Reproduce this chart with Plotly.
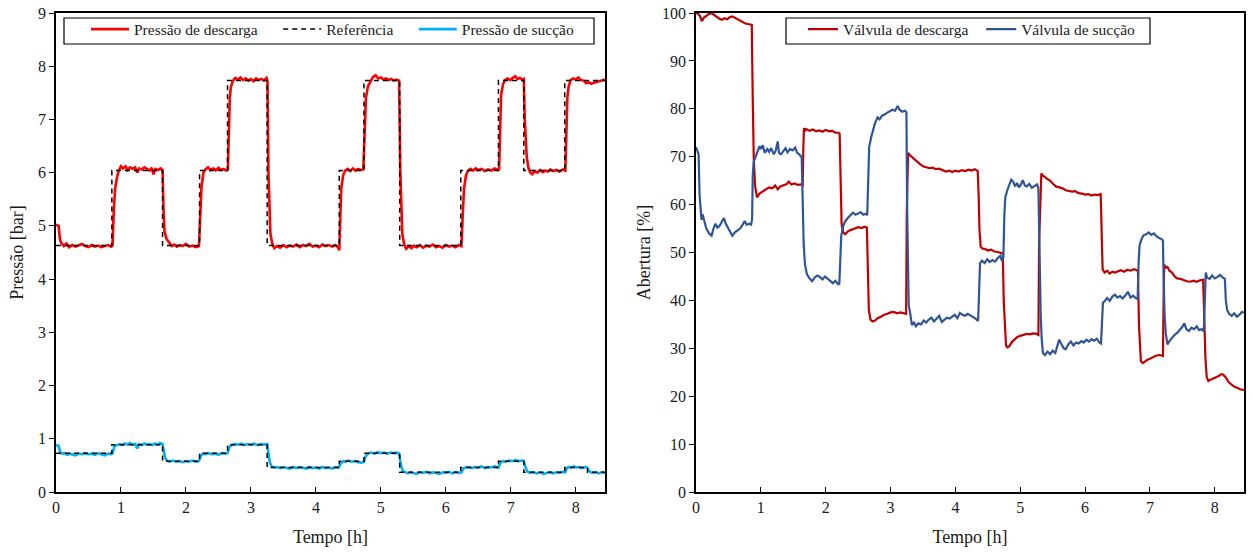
import plotly.graph_objects as go

# ---------------- Left panel: pressures ----------------
t_pd = [0, 0.04, 0.06, 0.08, 0.12, 0.16, 0.2, 0.25, 0.3, 0.35, 0.4, 0.45, 0.5, 0.55, 0.6, 0.65, 0.7, 0.75, 0.8, 0.85, 0.87,
        0.89, 0.91, 0.94, 0.97, 1.0,
        1.03, 1.07, 1.1, 1.14, 1.18, 1.22, 1.25, 1.28, 1.32, 1.36, 1.4, 1.44, 1.47, 1.5, 1.53, 1.57, 1.61, 1.64,
        1.655, 1.67, 1.70, 1.74, 1.78, 1.82, 1.86, 1.9, 1.95, 2.0, 2.05, 2.1, 2.15, 2.2,
        2.225, 2.24, 2.27, 2.3, 2.34, 2.38, 2.42, 2.46, 2.5, 2.54, 2.58, 2.62, 2.645,
        2.66, 2.675, 2.69, 2.72, 2.76, 2.8, 2.84, 2.88, 2.92, 2.96, 3.0, 3.04, 3.08, 3.12, 3.16, 3.2, 3.24, 3.255,
        3.27, 3.285, 3.3, 3.33, 3.36, 3.4, 3.45, 3.5, 3.55, 3.6, 3.65, 3.7, 3.75, 3.8, 3.85, 3.9, 3.95, 4.0, 4.05, 4.1, 4.15, 4.2, 4.25, 4.3, 4.34, 4.36,
        4.375, 4.39, 4.42, 4.45, 4.49, 4.53, 4.57, 4.61, 4.65, 4.69, 4.73,
        4.755, 4.77, 4.8, 4.84, 4.88, 4.92, 4.96, 5.0, 5.04, 5.08, 5.12, 5.16, 5.2, 5.24, 5.28,
        5.3, 5.315, 5.33, 5.36, 5.39, 5.43, 5.47, 5.51, 5.55, 5.6, 5.65, 5.7, 5.75, 5.8, 5.85, 5.9, 5.95, 6.0, 6.05, 6.1, 6.15, 6.2, 6.24,
        6.26, 6.28, 6.31, 6.34, 6.38, 6.42, 6.46, 6.5, 6.55, 6.6, 6.65, 6.7, 6.75, 6.8, 6.82,
        6.835, 6.85, 6.88, 6.91, 6.95, 6.99, 7.03, 7.07, 7.1, 7.14, 7.18, 7.2,
        7.215, 7.23, 7.245, 7.27, 7.3, 7.33, 7.37, 7.41, 7.45, 7.49, 7.53, 7.57, 7.61, 7.65, 7.7, 7.75, 7.8, 7.84,
        7.855, 7.87, 7.89, 7.92, 7.96, 8.0, 8.04, 8.08, 8.12, 8.16, 8.2, 8.24, 8.28, 8.32, 8.36, 8.4, 8.45]
p_descarga = [5.02, 5.0, 4.75, 4.68, 4.62, 4.67, 4.60, 4.64, 4.61, 4.63, 4.66, 4.62, 4.60, 4.64, 4.61, 4.63, 4.60, 4.62, 4.64, 4.61, 4.63,
              5.3, 5.7, 5.92, 6.05, 6.12,
              6.08, 6.12, 6.05, 6.10, 6.07, 6.1, 6.0, 6.08, 6.06, 6.1, 6.07, 6.04, 6.09, 5.97, 6.07, 6.05, 6.08, 6.05,
              5.3, 4.9, 4.76, 4.68, 4.62, 4.65, 4.61, 4.64, 4.62, 4.66, 4.61, 4.63, 4.60, 4.62,
              5.3, 5.75, 6.0, 6.06, 6.1, 6.05, 6.08, 6.04, 6.09, 6.05, 6.07, 6.04, 6.06,
              7.0, 7.4, 7.6, 7.72, 7.78, 7.75, 7.79, 7.74, 7.77, 7.73, 7.76, 7.72, 7.77, 7.74, 7.76, 7.73, 7.78, 7.72,
              6.0, 5.2, 4.85, 4.66, 4.58, 4.62, 4.59, 4.64, 4.60, 4.63, 4.61, 4.65, 4.60, 4.64, 4.62, 4.66, 4.61, 4.63, 4.60, 4.65, 4.62, 4.64, 4.61, 4.64, 4.60, 4.54,
              5.2, 5.7, 5.95, 6.04, 6.07, 6.03, 6.08, 6.04, 6.07, 6.05, 6.06,
              7.0, 7.4, 7.62, 7.72, 7.8, 7.83, 7.77, 7.79, 7.75, 7.77, 7.74, 7.76, 7.73, 7.75, 7.73,
              6.0, 5.2, 4.85, 4.65, 4.57, 4.62, 4.58, 4.63, 4.60, 4.64, 4.59, 4.63, 4.61, 4.65, 4.60, 4.62, 4.59, 4.64, 4.61, 4.63, 4.60, 4.64, 4.62,
              5.2, 5.7, 5.95, 6.03, 6.07, 6.04, 6.08, 6.05, 6.07, 6.03, 6.06, 6.04, 6.08, 6.05, 6.06,
              7.0, 7.45, 7.66, 7.74, 7.77, 7.74, 7.78, 7.81, 7.76, 7.78, 7.75, 7.76,
              7.0, 6.5, 6.3, 6.1, 6.0, 5.97, 6.03, 6.0, 6.05, 6.01, 6.04, 6.02, 6.06, 6.03, 6.05, 6.02, 6.06, 6.04,
              6.9, 7.4, 7.62, 7.74, 7.77, 7.75, 7.79, 7.74, 7.73, 7.68, 7.7, 7.67, 7.69, 7.7, 7.72, 7.73, 7.75]

t_ref_d = [0, 0.86, 1.64, 2.21, 2.64, 3.25, 4.36, 4.74, 5.29, 6.23, 6.81, 7.20, 7.83, 8.45]
p_ref_d = [4.63, 6.04, 4.63, 6.04, 7.73, 4.63, 6.04, 7.73, 4.63, 6.04, 7.73, 6.04, 7.73, 7.73]

t_ref_s = [0, 0.86, 1.64, 2.21, 2.64, 3.25, 4.36, 4.74, 5.29, 6.23, 6.81, 7.20, 7.83, 8.18, 8.45]
p_ref_s = [0.73, 0.89, 0.58, 0.73, 0.89, 0.46, 0.58, 0.73, 0.37, 0.46, 0.58, 0.37, 0.46, 0.37, 0.37]

t_ps = [0, 0.04, 0.06, 0.09, 0.13, 0.17, 0.21, 0.25, 0.3, 0.35, 0.4, 0.45, 0.5, 0.55, 0.6, 0.65, 0.7, 0.75, 0.8, 0.85, 0.87,
        0.9, 0.94, 0.98, 1.02, 1.06, 1.1, 1.14, 1.18, 1.22, 1.25, 1.28, 1.32, 1.36, 1.4, 1.44, 1.48, 1.52, 1.56, 1.6, 1.64,
        1.66, 1.68, 1.71, 1.75, 1.8, 1.85, 1.9, 1.95, 2.0, 2.05, 2.1, 2.15, 2.2,
        2.23, 2.26, 2.3, 2.35, 2.4, 2.45, 2.5, 2.55, 2.6, 2.64,
        2.67, 2.7, 2.75, 2.8, 2.85, 2.9, 2.95, 3.0, 3.05, 3.1, 3.15, 3.2, 3.25,
        3.27, 3.29, 3.32, 3.36, 3.4, 3.45, 3.5, 3.55, 3.6, 3.65, 3.7, 3.75, 3.8, 3.85, 3.9, 3.95, 4.0, 4.05, 4.1, 4.15, 4.2, 4.25, 4.3, 4.35,
        4.39, 4.42, 4.46, 4.5, 4.55, 4.6, 4.65, 4.7, 4.74,
        4.77, 4.8, 4.85, 4.9, 4.95, 5.0, 5.05, 5.1, 5.15, 5.2, 5.25, 5.28,
        5.31, 5.34, 5.38, 5.42, 5.46, 5.5, 5.55, 5.6, 5.65, 5.7, 5.75, 5.8, 5.85, 5.9, 5.95, 6.0, 6.05, 6.1, 6.15, 6.2, 6.24,
        6.27, 6.3, 6.35, 6.4, 6.45, 6.5, 6.55, 6.6, 6.65, 6.7, 6.75, 6.81,
        6.84, 6.87, 6.92, 6.97, 7.02, 7.07, 7.12, 7.17, 7.2,
        7.23, 7.26, 7.3, 7.35, 7.4, 7.45, 7.5, 7.55, 7.6, 7.65, 7.7, 7.75, 7.8, 7.84,
        7.86, 7.89, 7.93, 7.97, 8.01, 8.05, 8.1, 8.15, 8.18,
        8.2, 8.23, 8.27, 8.31, 8.35, 8.4, 8.45]
p_succao = [0.88, 0.87, 0.76, 0.72, 0.73, 0.70, 0.72, 0.71, 0.69, 0.72, 0.71, 0.73, 0.71, 0.72, 0.70, 0.73, 0.71, 0.69, 0.72, 0.71, 0.73,
            0.86, 0.88, 0.90, 0.88, 0.91, 0.89, 0.92, 0.89, 0.90, 0.82, 0.90, 0.88, 0.91, 0.89, 0.90, 0.88, 0.91, 0.89, 0.92, 0.90,
            0.75, 0.64, 0.59, 0.57, 0.59, 0.57, 0.58, 0.56, 0.58, 0.57, 0.59, 0.57, 0.58,
            0.68, 0.72, 0.71, 0.73, 0.71, 0.72, 0.70, 0.73, 0.72, 0.73,
            0.85, 0.88, 0.90, 0.89, 0.91, 0.88, 0.90, 0.89, 0.91, 0.88, 0.90, 0.89, 0.90,
            0.72, 0.56, 0.48, 0.46, 0.47, 0.45, 0.47, 0.46, 0.44, 0.47, 0.45, 0.47, 0.46, 0.44, 0.47, 0.45, 0.46, 0.44, 0.47, 0.45, 0.46, 0.44, 0.47, 0.46,
            0.55, 0.58, 0.57, 0.59, 0.57, 0.58, 0.56, 0.55, 0.57,
            0.68, 0.72, 0.74, 0.72, 0.75, 0.73, 0.74, 0.72, 0.74, 0.73, 0.74, 0.72,
            0.50, 0.39, 0.37, 0.35, 0.37, 0.36, 0.34, 0.37, 0.36, 0.38, 0.35, 0.37, 0.36, 0.34, 0.37, 0.36, 0.38, 0.35, 0.37, 0.36, 0.37,
            0.44, 0.46, 0.47, 0.45, 0.47, 0.46, 0.48, 0.45, 0.47, 0.46, 0.48, 0.46,
            0.55, 0.58, 0.57, 0.59, 0.58, 0.60, 0.58, 0.59, 0.58,
            0.45, 0.38, 0.36, 0.37, 0.35, 0.37, 0.34, 0.36, 0.37, 0.35, 0.37, 0.36, 0.38, 0.37,
            0.44, 0.47, 0.46, 0.48, 0.46, 0.47, 0.45, 0.47, 0.46,
            0.40, 0.37, 0.36, 0.37, 0.35, 0.37, 0.36]

# ---------------- Right panel: valve openings ----------------
t_vd = [0, 0.03, 0.06, 0.09, 0.12, 0.16, 0.2, 0.24, 0.28, 0.32, 0.36, 0.4, 0.44, 0.48, 0.52, 0.56, 0.6, 0.64, 0.68, 0.72, 0.76, 0.8, 0.85, 0.86,
        0.875, 0.89, 0.91, 0.94, 0.98, 1.03, 1.08, 1.13, 1.18, 1.22, 1.26, 1.3, 1.35, 1.4, 1.43, 1.47, 1.52, 1.57, 1.62, 1.645,
        1.655, 1.665, 1.68, 1.7, 1.75, 1.8, 1.85, 1.9, 1.95, 2.0, 2.05, 2.1, 2.15, 2.2, 2.215,
        2.23, 2.245, 2.27, 2.3, 2.35, 2.4, 2.45, 2.5, 2.55, 2.6, 2.635,
        2.65, 2.665, 2.69, 2.72, 2.76, 2.8, 2.85, 2.9, 2.95, 3.0, 3.05, 3.1, 3.15, 3.2, 3.24,
        3.25, 3.26, 3.27, 3.3, 3.33, 3.37, 3.41, 3.45, 3.5, 3.55, 3.6, 3.65, 3.7, 3.75, 3.8, 3.85, 3.9, 3.95, 4.0, 4.05, 4.1, 4.15, 4.2, 4.25, 4.3, 4.345,
        4.36, 4.37, 4.39, 4.42, 4.46, 4.5, 4.55, 4.6, 4.65, 4.7, 4.73,
        4.745, 4.76, 4.78, 4.8, 4.83, 4.87, 4.91, 4.95, 5.0, 5.05, 5.1, 5.15, 5.2, 5.25, 5.28,
        5.29, 5.3, 5.31, 5.325, 5.35, 5.38, 5.42, 5.46, 5.5, 5.55, 5.6, 5.65, 5.7, 5.75, 5.8, 5.85, 5.9, 5.95, 6.0, 6.05, 6.1, 6.15, 6.2, 6.24,
        6.255, 6.27, 6.3, 6.34, 6.38, 6.42, 6.46, 6.5, 6.55, 6.6, 6.65, 6.7, 6.75, 6.8, 6.815,
        6.83, 6.845, 6.86, 6.89, 6.92, 6.96, 7.0, 7.05, 7.1, 7.15, 7.2,
        7.21, 7.22, 7.24, 7.27, 7.3, 7.34, 7.38, 7.42, 7.47, 7.52, 7.57, 7.62, 7.67, 7.72, 7.77, 7.82,
        7.835, 7.855, 7.875, 7.9, 7.94, 7.98, 8.02, 8.06, 8.1, 8.13, 8.17, 8.21, 8.25, 8.3, 8.35, 8.4, 8.45]
v_descarga = [100, 99.9, 99.4, 98.3, 99.0, 99.4, 99.8, 100.0, 99.6, 99.2, 98.8, 98.6, 98.9, 98.7, 99.1, 99.3, 99.0, 98.6, 98.3, 98.0, 97.8, 97.7, 97.6, 97.5,
              82, 70, 64, 61.5, 62.3, 62.8, 63.2, 63.6, 63.4, 64.0, 63.2, 63.8, 64.1, 64.3, 64.8, 64.2, 64.4, 64.1, 64.2, 64.0,
              72, 76, 75.3, 75.8, 75.4, 75.7, 75.3, 75.5, 75.2, 75.6, 75.3, 75.4, 75.0, 75.0, 74.8,
              62, 56, 54.2, 53.8, 54.5, 54.8, 55.0, 55.3, 55.1, 55.4, 55.2,
              42, 38, 36.0, 35.6, 35.8, 36.3, 36.6, 37.0, 37.2, 37.5, 37.6, 37.3, 37.5, 37.4, 37.2,
              58, 64, 70.8, 70.3, 69.9, 69.5, 69.0, 68.5, 68.0, 67.8, 67.6, 67.7, 67.4, 67.5, 67.2, 66.9, 67.1, 66.8, 67.1, 66.9, 67.2, 67.0, 67.3, 67.1, 67.4, 67.0,
              61, 55, 51.2, 50.8, 50.7, 50.4, 50.6, 50.2, 50.1, 50.0, 49.8,
              40, 34, 30.6, 30.2, 30.4, 31.3, 31.9, 32.3, 32.6, 32.8, 33.0, 32.9, 33.1, 33.0, 32.8,
              52, 57, 62, 66.5, 66.0, 65.8, 65.3, 65.0, 64.4, 63.8, 63.6, 63.4, 63.0, 62.9, 62.7, 62.8, 62.4, 62.3, 62.1, 62.2, 61.9, 62.1, 62.0, 62.2,
              50, 46.5, 45.8, 46.2, 45.6, 46.0, 45.8, 46.1, 46.3, 46.0, 46.4, 46.2, 46.5, 46.3, 46.0,
              35, 29, 27.3, 26.9, 27.2, 27.6, 27.8, 28.2, 28.5, 28.6, 28.4,
              40, 47.5, 46.8, 47.0, 46.2, 45.8, 45.0, 44.6, 44.5, 44.2, 44.0, 43.9, 44.1, 43.9, 44.2, 44.3,
              35, 28, 24.0, 23.2, 23.5, 23.7, 24.0, 24.2, 24.6, 24.5, 23.9, 23.0, 22.5, 22.0, 21.7, 21.4, 21.3]

t_vs = [0, 0.02, 0.04, 0.055, 0.07, 0.085, 0.1, 0.13, 0.16, 0.2, 0.24, 0.27, 0.3, 0.33, 0.36, 0.39, 0.43, 0.46, 0.5, 0.53, 0.56, 0.6, 0.64, 0.68, 0.72, 0.75, 0.78, 0.82, 0.85, 0.865,
        0.875, 0.89, 0.92, 0.95, 0.98, 1.0, 1.03, 1.06, 1.1, 1.13, 1.16, 1.2, 1.23, 1.26, 1.28, 1.31, 1.35, 1.38, 1.41, 1.45, 1.49, 1.53, 1.56, 1.6, 1.63,
        1.645, 1.66, 1.68, 1.71, 1.75, 1.79, 1.83, 1.87, 1.91, 1.95, 1.99, 2.03, 2.07, 2.11, 2.15, 2.19, 2.21,
        2.225, 2.24, 2.27, 2.3, 2.34, 2.38, 2.42, 2.46, 2.5, 2.54, 2.58, 2.62, 2.64,
        2.655, 2.67, 2.7, 2.73, 2.76, 2.8, 2.83, 2.87, 2.91, 2.95, 2.99, 3.03, 3.07, 3.11, 3.14, 3.18, 3.22, 3.245,
        3.255, 3.265, 3.28, 3.3, 3.33, 3.36, 3.39, 3.43, 3.47, 3.51, 3.55, 3.59, 3.63, 3.67, 3.71, 3.75, 3.79, 3.83, 3.87, 3.91, 3.95, 3.99, 4.03, 4.07, 4.11, 4.15, 4.19, 4.23, 4.27, 4.31, 4.35,
        4.365, 4.38, 4.41, 4.45, 4.49, 4.53, 4.57, 4.61, 4.65, 4.69, 4.72, 4.74,
        4.755, 4.77, 4.8, 4.83, 4.86, 4.89, 4.92, 4.95, 4.98, 5.01, 5.04, 5.07, 5.1, 5.14, 5.18, 5.22, 5.26, 5.28,
        5.29, 5.3, 5.315, 5.33, 5.35, 5.38, 5.42, 5.46, 5.5, 5.54, 5.57, 5.6, 5.63, 5.67, 5.7, 5.74, 5.78, 5.82, 5.86, 5.9, 5.94, 5.98, 6.02, 6.06, 6.1, 6.14, 6.18, 6.22, 6.245,
        6.26, 6.275, 6.3, 6.34, 6.38, 6.42, 6.46, 6.5, 6.54, 6.58, 6.62, 6.66, 6.7, 6.74, 6.78, 6.81,
        6.825, 6.84, 6.87, 6.9, 6.94, 6.98, 7.02, 7.06, 7.1, 7.14, 7.18, 7.2,
        7.21, 7.225, 7.245, 7.27, 7.3, 7.34, 7.38, 7.42, 7.46, 7.5, 7.53, 7.56, 7.6, 7.64, 7.68, 7.72, 7.76, 7.8, 7.83,
        7.845, 7.86, 7.88, 7.92, 7.96, 8.0, 8.04, 8.08, 8.12, 8.155,
        8.17, 8.19, 8.22, 8.26, 8.3, 8.34, 8.38, 8.42, 8.45]
v_succao = [72.0, 71.2, 70.5, 62, 58.3, 56.8, 58.0, 56.5, 55.0, 54.0, 53.5, 55.0, 56.0, 55.2, 55.5, 56.2, 57.2, 56.0, 55.0, 54.0, 53.5, 54.2, 54.6, 55.0, 55.8, 56.6, 55.8, 56.0, 55.8, 57,
            66, 69.0, 70.0, 71.0, 72.2, 71.6, 72.4, 70.8, 71.6, 71.0, 71.8, 70.5, 71.3, 73.2, 70.8, 70.5, 71.2, 71.8, 70.9, 71.6, 71.3, 71.9, 70.8, 70.4, 69.8,
            60, 52, 47.5, 45.5, 44.6, 44.0, 44.8, 45.2, 44.9, 44.4, 45.0, 44.5, 44.0, 43.6, 44.1, 43.4, 43.5,
            50, 53.5, 55.5, 56.5, 57.2, 57.8, 58.3, 57.9, 58.2, 58.4, 57.9, 58.1, 57.8,
            66, 72.0, 74.0, 75.5, 77.0, 78.2, 77.8, 78.6, 78.8, 79.2, 79.5, 79.8, 79.6, 80.6, 79.8, 79.4, 79.6, 79.3,
            60, 45, 39, 37.5, 34.8, 35.5, 34.6, 35.2, 35.0, 35.8, 35.4, 36.0, 36.4, 35.6, 36.3, 36.8, 35.5, 36.0, 36.4, 36.2, 36.6, 37.0, 36.3, 37.4, 37.0, 36.8, 37.2, 36.9, 36.5, 36.2, 35.7,
            45, 47.8, 48.3, 47.8, 48.6, 48.0, 48.4, 48.1, 48.8, 49.3, 48.2, 49.0,
            58, 61.5, 63.0, 64.2, 65.2, 64.8, 63.8, 64.5, 63.6, 64.2, 65.1, 64.0, 63.8, 64.3, 63.5, 63.9, 64.2, 63.3,
            55, 45, 37, 32, 29.0, 28.6, 29.3, 28.8, 29.5, 29.0, 30.2, 31.8, 31.0, 30.0, 29.8, 30.8, 31.4, 30.6, 31.2, 31.0, 31.5, 31.2, 31.8, 31.4, 31.9, 31.6, 32.0, 31.2, 31.0,
            37, 39.5, 39.8, 40.5, 39.9, 40.8, 41.2, 40.6, 40.9, 40.4, 41.0, 41.8, 40.6, 41.0, 40.5, 40.3,
            48, 51.5, 52.8, 53.6, 53.8, 54.2, 53.7, 54.0, 53.4, 53.0, 52.8, 52.5,
            45, 37, 33, 30.8, 31.5, 32.2, 32.8, 33.2, 33.8, 34.5, 35.2, 34.0, 33.6, 34.3, 34.0, 34.6, 33.8, 34.0, 33.5,
            40, 45.8, 44.8, 44.5, 45.2, 44.6, 44.9, 45.3, 44.8, 44.5,
            40, 38.0, 37.2, 36.8, 37.3, 36.6, 37.0, 37.6, 37.4]

x_ticks = [0, 1, 2, 3, 4, 5, 6, 7, 8]

FONT = "Liberation Serif"
INK = "#1a1a1a"
PAD = "\u00a0"
REF_DASH = "5px,4px"

fig = go.Figure()

# left panel
fig.add_trace(go.Scatter(x=t_pd, y=p_descarga, mode="lines", name="Pressão de descarga" + PAD * 4,
                         line=dict(color="#FF0000", width=2.6), xaxis="x", yaxis="y", legend="legend"))
fig.add_trace(go.Scatter(x=t_ref_d, y=p_ref_d, mode="lines", name="Referência" + PAD * 4, line_shape="hv",
                         line=dict(color="#000000", width=1.5, dash=REF_DASH), xaxis="x", yaxis="y", legend="legend"))
fig.add_trace(go.Scatter(x=t_ps, y=p_succao, mode="lines", name="Pressão de sucção",
                         line=dict(color="#00B0F0", width=2.6), xaxis="x", yaxis="y", legend="legend"))
fig.add_trace(go.Scatter(x=t_ref_s, y=p_ref_s, mode="lines", name="Referência", line_shape="hv", showlegend=False,
                         line=dict(color="#000000", width=1.5, dash=REF_DASH), xaxis="x", yaxis="y"))

# right panel
fig.add_trace(go.Scatter(x=t_vd, y=v_descarga, mode="lines", name="Válvula de descarga" + PAD * 2,
                         line=dict(color="#C00000", width=2.2), xaxis="x2", yaxis="y2", legend="legend2"))
fig.add_trace(go.Scatter(x=t_vs, y=v_succao, mode="lines", name="Válvula de sucção",
                         line=dict(color="#2F5597", width=2.2), xaxis="x2", yaxis="y2", legend="legend2"))

W, H = 1253, 552
y_dom = [1 - 492 / H, 1 - 13 / H]

common_x = dict(range=[0, 8.45], tickvals=x_ticks, ticks="inside", ticklen=5, tickwidth=1.2, tickcolor="black",
                showline=True, linecolor="black", linewidth=1.5, mirror=True, showgrid=False, zeroline=False,
                automargin=False,
                tickfont=dict(family=FONT, size=16, color=INK),
                title=dict(text="Tempo [h]", font=dict(family=FONT, size=18, color=INK), standoff=15))
common_y = dict(ticks="outside", ticklen=5, tickwidth=1.2, tickcolor="black",
                showline=True, linecolor="black", linewidth=1.5, mirror=True, showgrid=False, zeroline=False,
                automargin=False,
                tickfont=dict(family=FONT, size=16, color=INK), domain=y_dom)

legend_common = dict(orientation="h", xanchor="left", y=1 - 12.5 / H, yanchor="top",
                     bgcolor="rgba(0,0,0,0)", borderwidth=0,
                     font=dict(family=FONT, size=15.5, color=INK))

# legend frames (white boxes with black border, like the original)
frame_shapes = [
    dict(type="rect", xref="paper", yref="paper", x0=64 / W, x1=594 / W, y0=1 - 44 / H, y1=1 - 18 / H,
         line=dict(color="black", width=1.2), fillcolor="white", layer="below"),
    dict(type="rect", xref="paper", yref="paper", x0=786 / W, x1=1150 / W, y0=1 - 44 / H, y1=1 - 18 / H,
         line=dict(color="black", width=1.2), fillcolor="white", layer="below"),
]

fig.update_layout(
    width=W, height=H,
    margin=dict(l=0, r=0, t=0, b=0, autoexpand=False),
    paper_bgcolor="white", plot_bgcolor="white",
    font=dict(family=FONT, size=16, color=INK),
    xaxis=dict(common_x, domain=[56 / W, 605 / W], anchor="y"),
    yaxis=dict(common_y, range=[0, 9], dtick=1, anchor="x",
               title=dict(text="Pressão [bar]", font=dict(family=FONT, size=18, color=INK), standoff=10)),
    xaxis2=dict(common_x, domain=[696 / W, 1244 / W], anchor="y2"),
    yaxis2=dict(common_y, range=[0, 100], dtick=10, anchor="x2",
                title=dict(text="Abertura [%]", font=dict(family=FONT, size=18, color=INK), standoff=7)),
    legend=dict(legend_common, x=86 / W, itemwidth=38),
    legend2=dict(legend_common, x=803 / W, itemwidth=30),
    shapes=frame_shapes,
    showlegend=True,
)

fig.write_html("out.html")
